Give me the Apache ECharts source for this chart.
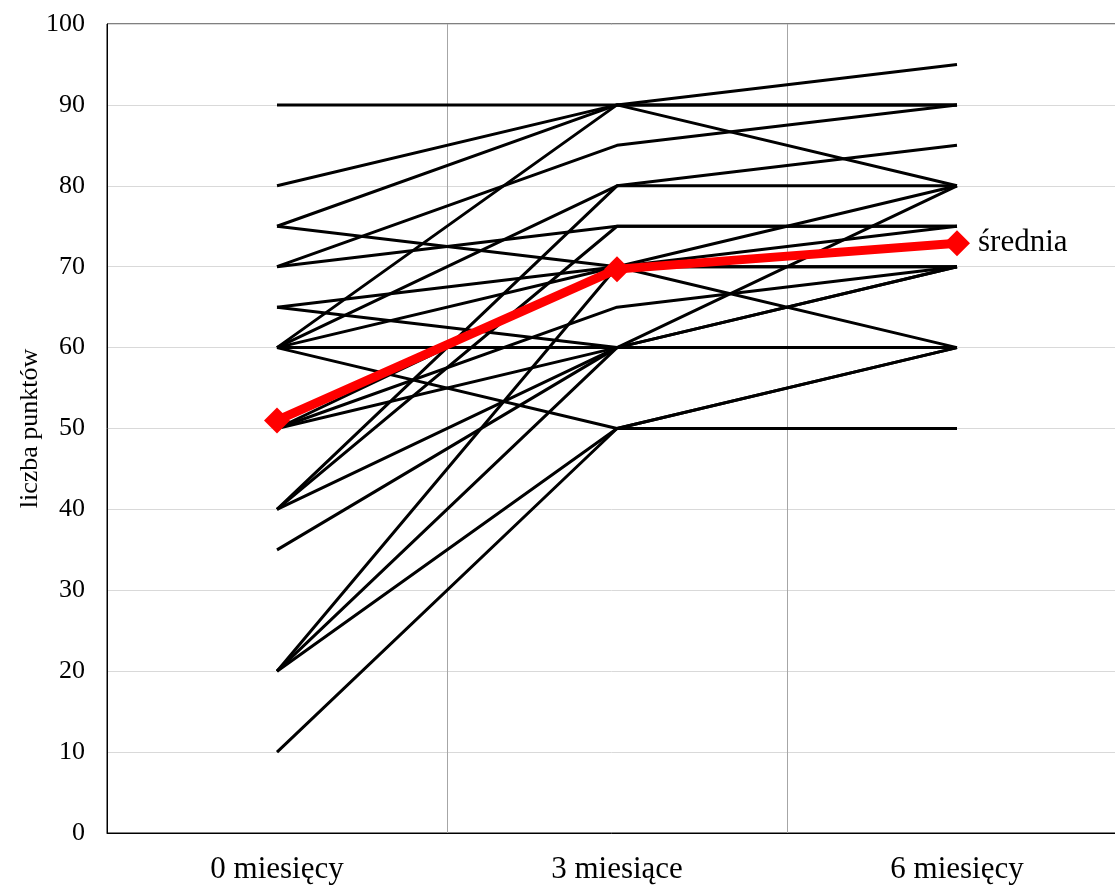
<!DOCTYPE html>
<html>
<head>
<meta charset="utf-8">
<script src="https://cdn.jsdelivr.net/npm/echarts@6/dist/echarts.min.js"></script>
<style>
html,body{margin:0;padding:0;background:#fff;}
#chart{width:1115px;height:886px;}
</style>
</head>
<body>
<div id="chart"></div>
<script>
const categories = ['0 miesięcy', '3 miesiące', '6 miesięcy'];
// individual patients: score at 0, 3 and 6 months
const at0 = [90, 80, 60, 75, 70, 60, 40, 70, 40, 75, 65, 60, 50, 20, 50, 65, 60, 50, 40, 35, 20, 60, 20, 10];
const at3 = [90, 90, 90, 90, 85, 80, 80, 75, 75, 70, 70, 70, 70, 70, 65, 60, 60, 60, 60, 60, 60, 50, 50, 50];
const at6 = [90, 95, 80, 90, 90, 85, 80, 75, 75, 60, 75, 70, 80, 70, 70, 60, 60, 70, 80, 60, 70, 50, 60, 60];
const meanValues = [51, 69.7, 72.9];
const meanName = 'średnia';
const yAxisTitle = 'liczba punktów';

const serif = '"Liberation Serif", "Times New Roman", "DejaVu Serif", serif';
const chart = echarts.init(document.getElementById('chart'));

const series = at0.map((v, i) => ({
  type: 'line',
  data: [v, at3[i], at6[i]],
  symbol: 'none',
  lineStyle: { color: '#000', width: 3 },
  silent: true,
  z: 2
}));

series.push({
  type: 'line',
  name: meanName,
  data: meanValues.map((v, i) => i === meanValues.length - 1
    ? { value: v, label: { show: true, position: 'right', distance: 8, formatter: meanName, color: '#000', fontFamily: serif, fontSize: 31 } }
    : v),
  symbol: 'diamond',
  symbolSize: 26,
  itemStyle: { color: '#ff0000' },
  lineStyle: { color: '#ff0000', width: 9 },
  z: 5
});

chart.setOption({
  animation: false,
  backgroundColor: '#fff',
  grid: { left: 107, top: 24, width: 1020, height: 809, outerBoundsMode: 'none', containLabel: false, show: true, borderColor: '#000', borderWidth: 1 },
  xAxis: {
    type: 'category',
    data: categories,
    boundaryGap: true,
    axisLine: { show: true, lineStyle: { color: '#000', width: 1 } },
    axisTick: { show: false },
    axisLabel: { color: '#000', fontFamily: serif, fontSize: 31, margin: 21 },
    splitLine: { show: true, lineStyle: { color: '#a6a6a6', width: 1 } }
  },
  yAxis: {
    type: 'value',
    min: 0, max: 100, interval: 10,
    name: yAxisTitle,
    nameLocation: 'middle',
    nameGap: 64,
    nameMoveOverlap: false,
    nameRotate: 90,
    nameTextStyle: { color: '#000', fontFamily: serif, fontSize: 26 },
    axisLine: { show: true, lineStyle: { color: '#000', width: 1 } },
    axisTick: { show: false },
    axisLabel: { color: '#000', fontFamily: serif, fontSize: 26, margin: 22 },
    splitLine: { show: true, lineStyle: { color: '#d9d9d9', width: 1 } }
  },
  series: series
});
</script>
</body>
</html>
